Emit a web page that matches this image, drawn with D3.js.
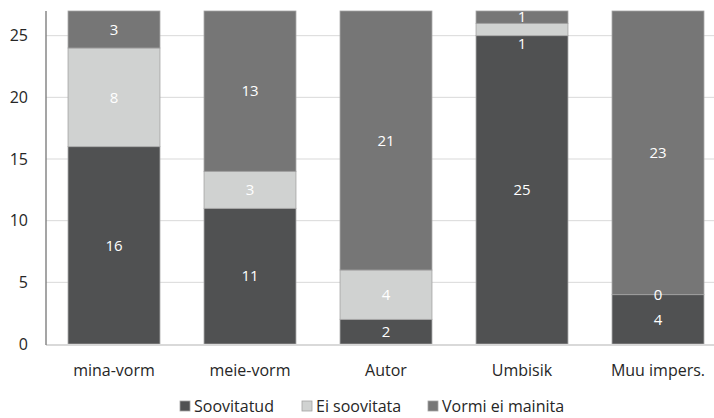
<!DOCTYPE html>
<html>
<head>
<meta charset="utf-8">
<script src="https://cdn.jsdelivr.net/npm/d3@7"></script>
<style>
  html, body { margin: 0; padding: 0; background: #fff; }
  svg { display: block; font-family: "Open Sans", sans-serif; }
</style>
</head>
<body>
<svg id="chart" width="714" height="418"></svg>
<script>
// Categories and stacked series
const categories = ["mina-vorm", "meie-vorm", "Autor", "Umbisik", "Muu impers."];
const seriesNames = ["Soovitatud", "Ei soovitata", "Vormi ei mainita"];
const soovitatud = [16, 11, 2, 25, 4];
const eiSoovitata = [8, 3, 4, 1, 0];
const vormiEiMainita = [3, 13, 21, 1, 23];
const yTicks = [0, 5, 10, 15, 20, 25];
const yMax = 27;

const colors = ["#505152", "#d0d2d1", "#767676"];

const rows = categories.map((c, i) => ({
  cat: c,
  "Soovitatud": soovitatud[i],
  "Ei soovitata": eiSoovitata[i],
  "Vormi ei mainita": vormiEiMainita[i]
}));

const svg = d3.select("#chart");
const margin = { left: 46, top: 11, bottom: 74 };
const H = 418;
const x = d3.scaleBand().domain(categories).range([margin.left, 726]).paddingInner(0.324).paddingOuter(0.162);
const y = d3.scaleLinear().domain([0, yMax]).range([H - margin.bottom, margin.top]);

// Gridlines
svg.append("g")
  .selectAll("line")
  .data(yTicks.filter(t => t > 0))
  .join("line")
  .attr("x1", margin.left).attr("x2", 714)
  .attr("y1", d => y(d)).attr("y2", d => y(d))
  .attr("stroke", "#d9d9d9").attr("stroke-width", 1);

// Y axis labels
const yAxis = svg.append("g")
  .attr("transform", `translate(${margin.left},0)`)
  .call(d3.axisLeft(y).tickValues(yTicks).tickSize(0).tickPadding(18));
yAxis.select(".domain").remove();
yAxis.selectAll("text")
  .attr("font-family", "Open Sans").attr("font-size", 16).attr("fill", "#262626");

// Stacked bars
const stack = d3.stack().keys(seriesNames)(rows);
const layers = svg.append("g").selectAll("g")
  .data(stack)
  .join("g")
  .attr("fill", (d, i) => colors[i]);

layers.selectAll("rect")
  .data(d => d)
  .join("rect")
  .attr("x", d => x(d.data.cat))
  .attr("width", x.bandwidth())
  .attr("y", d => y(d[1]))
  .attr("height", d => y(d[0]) - y(d[1]))
  .attr("stroke", "#a3a3a3")
  .attr("stroke-width", 0.8);

// Bottom axis line
svg.append("line")
  .attr("x1", margin.left).attr("x2", 714)
  .attr("y1", y(0) + 1).attr("y2", y(0) + 1)
  .attr("stroke", "#d9d9d9").attr("stroke-width", 2);

// Y axis line
svg.append("line")
  .attr("x1", margin.left).attr("x2", margin.left)
  .attr("y1", y(yMax)).attr("y2", y(0) + 1)
  .attr("stroke", "#7f7f7f").attr("stroke-width", 1.4);

// Data labels, placed top-down per bar; a crowded label moves just below its segment
const labels = [];
categories.forEach((c, ci) => {
  let prevY = -Infinity;
  for (let si = stack.length - 1; si >= 0; si--) {
    const seg = stack[si][ci];
    const v = seg[1] - seg[0];
    let ly = (y(seg[0]) + y(seg[1])) / 2;
    if (ly - prevY < 16) ly = y(seg[0]) + 8;
    labels.push({ x: x(c) + x.bandwidth() / 2, y: ly, v });
    prevY = ly;
  }
});
svg.append("g").selectAll("text")
  .data(labels)
  .join("text")
  .attr("x", d => d.x).attr("y", d => d.y)
  .attr("dy", "0.35em")
  .attr("text-anchor", "middle")
  .attr("font-size", 15)
  .attr("fill", "#ffffff")
  .text(d => d.v);

// X axis labels
svg.append("g").selectAll("text")
  .data(categories)
  .join("text")
  .attr("x", d => x(d) + x.bandwidth() / 2)
  .attr("y", 370)
  .attr("dy", "0.35em")
  .attr("text-anchor", "middle")
  .attr("font-size", 16)
  .attr("fill", "#262626")
  .text(d => d);

// Legend
const legendX = [180, 302, 428];
const legend = svg.append("g").selectAll("g")
  .data(seriesNames)
  .join("g")
  .attr("transform", (d, i) => `translate(${legendX[i]},401)`);
legend.append("rect")
  .attr("width", 10).attr("height", 10)
  .attr("fill", (d, i) => colors[i])
  .attr("stroke", "#a3a3a3").attr("stroke-width", 0.8);
legend.append("text")
  .attr("x", 14).attr("y", 5)
  .attr("dy", "0.35em")
  .attr("font-size", 16)
  .attr("fill", "#262626")
  .text(d => d);
</script>
</body>
</html>
